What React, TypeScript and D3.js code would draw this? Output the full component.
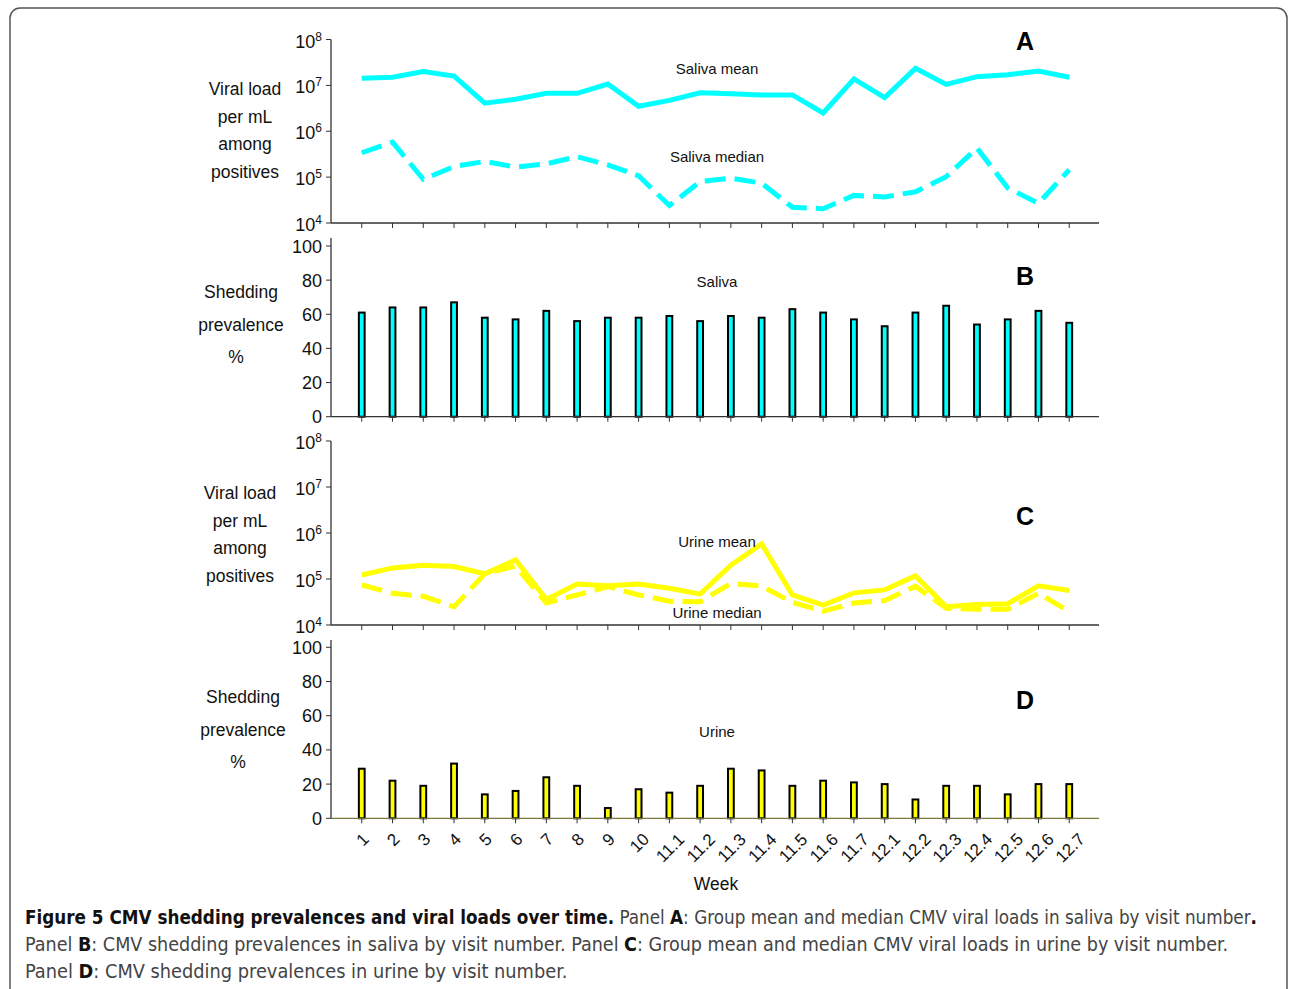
import React, { useLayoutEffect, useRef, useState } from "react";
import * as d3 from "d3";

// Visit labels (weeks / sub-visits)
const weeks = ["1","2","3","4","5","6","7","8","9","10","11.1","11.2","11.3","11.4","11.5","11.6","11.7","12.1","12.2","12.3","12.4","12.5","12.6","12.7"];

// Panel A: saliva viral loads (copies/mL among positives)
const salivaMean = [1.43e7,1.5e7,2.0e7,1.6e7,4.1e6,5.0e6,6.7e6,6.7e6,1.07e7,3.5e6,4.7e6,6.9e6,6.6e6,6.2e6,6.2e6,2.5e6,1.38e7,5.4e6,2.35e7,1.05e7,1.55e7,1.7e7,2.05e7,1.5e7];
const salivaMedian = [3.4e5,5.8e5,9.0e4,1.7e5,2.2e5,1.65e5,1.95e5,2.8e5,1.85e5,1.07e5,2.4e4,8.0e4,9.5e4,7.4e4,2.2e4,2.05e4,4.0e4,3.7e4,4.8e4,1.02e5,4.3e5,5.8e4,2.7e4,1.45e5];

// Panel B: saliva shedding prevalence (%)
const salivaPrev = [61,64,64,67,58,57,62,56,58,58,59,56,59,58,63,61,57,53,61,65,54,57,62,55];

// Panel C: urine viral loads
const urineMean = [1.22e5,1.74e5,2.0e5,1.86e5,1.3e5,2.6e5,3.6e4,7.8e4,7.1e4,7.8e4,6.3e4,4.7e4,2.0e5,5.8e5,4.5e4,2.7e4,5.0e4,5.8e4,1.17e5,2.5e4,2.8e4,2.9e4,7.1e4,5.6e4];
const urineMedian = [7.4e4,4.9e4,4.2e4,2.5e4,1.3e5,1.9e5,3.0e4,4.5e4,6.8e4,4.5e4,3.3e4,3.2e4,8.0e4,7.0e4,3.1e4,2.0e4,3.0e4,3.4e4,7.0e4,2.3e4,2.2e4,2.2e4,4.9e4,1.95e4];

// Panel D: urine shedding prevalence (%)
const urinePrev = [29,22,19,32,14,16,24,19,6,17,15,19,29,28,19,22,21,20,11,19,19,14,20,20];

const logTicks = [1e4, 1e5, 1e6, 1e7, 1e8];
const pctTicks = [0, 20, 40, 60, 80, 100];

const CYAN = "#00FFFF";
const YELLOW = "#FFFF00";
const AXIS = "#333";
const FONT = "'Liberation Sans', Arial, Helvetica, sans-serif";
const CAP_FONT = "'Liberation Sans Narrow', 'DejaVu Sans Condensed', 'Open Sans', sans-serif";

const x = d3.scalePoint<string>().domain(weeks).range([331, 1100]).padding(1);

const yA = d3.scaleLog().domain([1e4, 1e8]).range([223, 39.5]);
const yB = d3.scaleLinear().domain([0, 100]).range([416.7, 246]);
const yC = d3.scaleLog().domain([1e4, 1e8]).range([625, 441]);
const yD = d3.scaleLinear().domain([0, 100]).range([818.3, 647.3]);

function XAxis({ y, color = AXIS }: { y: number; color?: string }) {
  return (
    <g>
      <line x1={331} x2={1099} y1={y} y2={y} stroke={color} strokeWidth={1.3} />
      {weeks.map((w) => (
        <line key={w} x1={x(w)} x2={x(w)} y1={y} y2={y + 5} stroke={AXIS} strokeWidth={1} />
      ))}
    </g>
  );
}

function LogAxis({ scale, top }: { scale: d3.ScaleLogarithmic<number, number>; top: number }) {
  const [r0] = scale.range();
  return (
    <g>
      <line x1={331} x2={331} y1={top} y2={r0} stroke={AXIS} strokeWidth={1.3} />
      {logTicks.map((t) => {
        const ty = scale(t);
        const exp = Math.round(Math.log10(t));
        return (
          <g key={t}>
            <line x1={326} x2={331} y1={ty} y2={ty} stroke={AXIS} strokeWidth={1} />
            <text x={322} y={ty + 8} textAnchor="end" fontFamily={FONT} fontSize={18} fill="#111">
              10
              <tspan dy={-7} fontSize={12}>{exp}</tspan>
            </text>
          </g>
        );
      })}
    </g>
  );
}

function PctAxis({ scale, top }: { scale: d3.ScaleLinear<number, number>; top: number }) {
  const [r0] = scale.range();
  return (
    <g>
      <line x1={331} x2={331} y1={top} y2={r0} stroke={AXIS} strokeWidth={1.3} />
      {pctTicks.map((t) => {
        const ty = scale(t);
        return (
          <g key={t}>
            <line x1={326} x2={331} y1={ty} y2={ty} stroke={AXIS} strokeWidth={1} />
            <text x={322} y={ty + 6.5} textAnchor="end" fontFamily={FONT} fontSize={18} fill="#111">
              {t}
            </text>
          </g>
        );
      })}
    </g>
  );
}

function Series({ values, scale, color, dashed }: { values: number[]; scale: d3.ScaleLogarithmic<number, number>; color: string; dashed?: boolean }) {
  const line = d3
    .line<number>()
    .x((_, i) => x(weeks[i]) as number)
    .y((v) => scale(v));
  return (
    <path
      d={line(values) || ""}
      fill="none"
      stroke={color}
      strokeWidth={5}
      strokeLinejoin="miter"
      strokeDasharray={dashed ? "21 9" : undefined}
    />
  );
}

function Bars({ values, scale, color }: { values: number[]; scale: d3.ScaleLinear<number, number>; color: string }) {
  const base = scale(0);
  return (
    <g>
      {values.map((v, i) => {
        const cx = x(weeks[i]) as number;
        return (
          <rect
            key={weeks[i]}
            x={cx - 2.9}
            y={scale(v)}
            width={5.8}
            height={base - scale(v)}
            fill={color}
            stroke="#000"
            strokeWidth={2}
          />
        );
      })}
    </g>
  );
}

function SideLabel({ lines, cx, y0, step, lastShift = 0 }: { lines: string[]; cx: number; y0: number; step: number; lastShift?: number }) {
  return (
    <g>
      {lines.map((l, i) => (
        <text
          key={l}
          x={cx + (i === lines.length - 1 ? lastShift : 0)}
          y={y0 + i * step}
          textAnchor="middle"
          fontFamily={FONT}
          fontSize={17.5}
          fill="#111"
        >
          {l}
        </text>
      ))}
    </g>
  );
}

function Note({ text, y }: { text: string; y: number }) {
  return (
    <text x={717} y={y} textAnchor="middle" fontFamily={FONT} fontSize={15} fill="#111">
      {text}
    </text>
  );
}

function PanelLetter({ letter, y }: { letter: string; y: number }) {
  return (
    <text x={1025} y={y} textAnchor="middle" fontFamily={FONT} fontSize={25} fontWeight="bold" fill="#000">
      {letter}
    </text>
  );
}

// Caption line rendered at natural width, then squeezed horizontally to the column width
function CaptionLine({ y, width, children }: { y: number; width: number; children: React.ReactNode }) {
  const ref = useRef<SVGTextElement>(null);
  const [sx, setSx] = useState(1);
  useLayoutEffect(() => {
    if (ref.current) {
      const w = ref.current.getComputedTextLength();
      if (w > 0) setSx(width / w);
    }
  }, [width]);
  return (
    <g transform={`translate(25,${y}) scale(${sx},1)`}>
      <text ref={ref} x={0} y={0} fontFamily={CAP_FONT} fontSize={19} fill="#444">
        {children}
      </text>
    </g>
  );
}

// rough advance widths (Liberation Sans) used to place rotated labels
const LABEL_SIZE = 17;
const labelWidth = (s: string) =>
  s.split("").reduce((acc, c) => acc + (c === "." ? 0.278 : 0.556) * LABEL_SIZE, 0);

export default function App() {
  return (
    <svg
      width={1290}
      height={989}
      style={{ position: "absolute", left: 0, top: 0, display: "block", background: "#fff" }}
    >
      <rect x={10} y={8} width={1277} height={1010} rx={10} fill="none" stroke="#555" strokeWidth={1.5} />

      {/* Panel A */}
      <LogAxis scale={yA} top={39.5} />
      <XAxis y={223} />
      <Series values={salivaMean} scale={yA} color={CYAN} />
      <Series values={salivaMedian} scale={yA} color={CYAN} dashed />
      <Note text="Saliva mean" y={74} />
      <Note text="Saliva median" y={162} />
      <PanelLetter letter="A" y={50} />
      <SideLabel lines={["Viral load", "per mL", "among", "positives"]} cx={245} y0={95} step={27.7} />

      {/* Panel B */}
      <PctAxis scale={yB} top={238} />
      <Bars values={salivaPrev} scale={yB} color={CYAN} />
      <XAxis y={416.7} />
      <Note text="Saliva" y={287} />
      <PanelLetter letter="B" y={285} />
      <SideLabel lines={["Shedding", "prevalence", "%"]} cx={241} y0={298} step={32.5} lastShift={-5} />

      {/* Panel C */}
      <LogAxis scale={yC} top={441} />
      <XAxis y={625} />
      <Series values={urineMean} scale={yC} color={YELLOW} />
      <Series values={urineMedian} scale={yC} color={YELLOW} dashed />
      <Note text="Urine mean" y={547} />
      <Note text="Urine median" y={618} />
      <PanelLetter letter="C" y={525} />
      <SideLabel lines={["Viral load", "per mL", "among", "positives"]} cx={240} y0={499} step={27.7} />

      {/* Panel D */}
      <PctAxis scale={yD} top={640} />
      <Bars values={urinePrev} scale={yD} color={YELLOW} />
      <XAxis y={818.3} color="#7a7a3a" />
      <Note text="Urine" y={737} />
      <PanelLetter letter="D" y={709} />
      <SideLabel lines={["Shedding", "prevalence", "%"]} cx={243} y0={703} step={32.5} lastShift={-5} />

      {/* Rotated week labels */}
      {weeks.map((w) => {
        const cx = (x(w) as number) + 1;
        const cy = 832 + ((labelWidth(w) + LABEL_SIZE * 0.72) * 0.707) / 2;
        return (
          <text
            key={w}
            x={cx}
            y={cy}
            textAnchor="middle"
            dominantBaseline="central"
            fontFamily={FONT}
            fontSize={LABEL_SIZE}
            fill="#111"
            transform={`rotate(-45 ${cx} ${cy})`}
          >
            {w}
          </text>
        );
      })}
      <text x={716} y={890} textAnchor="middle" fontFamily={FONT} fontSize={17.5} fill="#111">
        Week
      </text>

      {/* Figure caption */}
      <CaptionLine y={924} width={1233}>
        <tspan fontWeight="bold" fill="#111">Figure 5 CMV shedding prevalences and viral loads over time.</tspan>
        {" Panel "}
        <tspan fontWeight="bold" fill="#111">A</tspan>
        {": Group mean and median CMV viral loads in saliva by visit number"}
        <tspan fontWeight="bold" fill="#111">.</tspan>
      </CaptionLine>
      <CaptionLine y={951} width={1204}>
        {"Panel "}
        <tspan fontWeight="bold" fill="#111">B</tspan>
        {": CMV shedding prevalences in saliva by visit number. Panel "}
        <tspan fontWeight="bold" fill="#111">C</tspan>
        {": Group mean and median CMV viral loads in urine by visit number."}
      </CaptionLine>
      <CaptionLine y={978} width={543}>
        {"Panel "}
        <tspan fontWeight="bold" fill="#111">D</tspan>
        {": CMV shedding prevalences in urine by visit number."}
      </CaptionLine>
    </svg>
  );
}
